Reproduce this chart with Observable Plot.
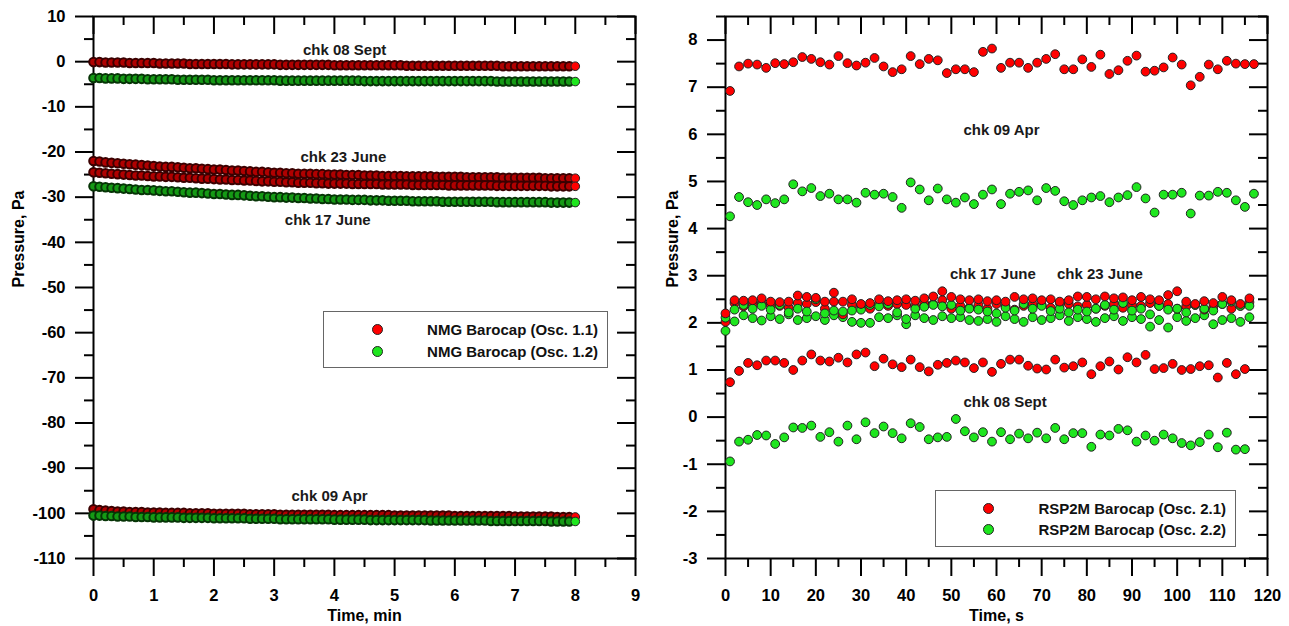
<!DOCTYPE html>
<html><head><meta charset="utf-8">
<script src="https://cdn.jsdelivr.net/npm/d3@7"></script>
<script src="https://cdn.jsdelivr.net/npm/@observablehq/plot@0.6"></script>
<style>
body{margin:0;background:#fff;font-family:"Liberation Sans",Arial,sans-serif;}
#wrap{position:relative;width:1289px;height:626px;overflow:hidden;background:#fff;}
.panel{position:absolute;top:0;}
.legend{position:absolute;border:1px solid #666;background:#fff;box-sizing:border-box;font:bold 15px "Liberation Sans",Arial,sans-serif;color:#111;}
.legend .sym{position:absolute;width:9px;height:9px;border-radius:50%;border:1px solid #222;}
.legend .lab{position:absolute;white-space:nowrap;line-height:18px;}
</style>
</head><body>
<div id="wrap"></div>
<script>
// ---------- LEFT PANEL DATA (Time, min) ----------
const leftTime = [
0,0.1,0.2,0.3,0.4,0.5,0.6,0.7,0.8,0.9,
1,1.1,1.2,1.3,1.4,1.5,1.6,1.7,1.8,1.9,
2,2.1,2.2,2.3,2.4,2.5,2.6,2.7,2.8,2.9,
3,3.1,3.2,3.3,3.4,3.5,3.6,3.7,3.8,3.9,
4,4.1,4.2,4.3,4.4,4.5,4.6,4.7,4.8,4.9,
5,5.1,5.2,5.3,5.4,5.5,5.6,5.7,5.8,5.9,
6,6.1,6.2,6.3,6.4,6.5,6.6,6.7,6.8,6.9,
7,7.1,7.2,7.3,7.4,7.5,7.6,7.7,7.8,7.9,
8];
// chk 08 Sept, Osc 1.1 (red)
const sept11 = [
-0.1,-0.1,-0.2,-0.2,-0.2,-0.2,-0.3,-0.3,-0.3,-0.3,
-0.3,-0.4,-0.4,-0.4,-0.4,-0.4,-0.5,-0.5,-0.5,-0.5,
-0.5,-0.5,-0.5,-0.6,-0.6,-0.6,-0.6,-0.6,-0.6,-0.6,
-0.6,-0.7,-0.7,-0.7,-0.7,-0.7,-0.7,-0.7,-0.7,-0.7,
-0.8,-0.8,-0.8,-0.8,-0.8,-0.8,-0.8,-0.8,-0.8,-0.8,
-0.8,-0.8,-0.9,-0.9,-0.9,-0.9,-0.9,-0.9,-0.9,-0.9,
-0.9,-0.9,-0.9,-0.9,-0.9,-0.9,-0.9,-0.9,-1.0,-1.0,
-1.0,-1.0,-1.0,-1.0,-1.0,-1.0,-1.0,-1.0,-1.0,-1.0,
-1.0];
// chk 08 Sept, Osc 1.2 (green)
const sept12 = [
-3.6,-3.6,-3.7,-3.7,-3.7,-3.8,-3.8,-3.8,-3.8,-3.9,
-3.9,-3.9,-3.9,-3.9,-4.0,-4.0,-4.0,-4.0,-4.0,-4.0,
-4.1,-4.1,-4.1,-4.1,-4.1,-4.1,-4.1,-4.1,-4.1,-4.1,
-4.1,-4.2,-4.2,-4.2,-4.2,-4.2,-4.2,-4.2,-4.2,-4.2,
-4.2,-4.2,-4.2,-4.2,-4.2,-4.3,-4.3,-4.3,-4.3,-4.3,
-4.3,-4.3,-4.3,-4.3,-4.3,-4.3,-4.3,-4.3,-4.3,-4.3,
-4.3,-4.3,-4.3,-4.3,-4.3,-4.3,-4.3,-4.4,-4.4,-4.4,
-4.4,-4.4,-4.4,-4.4,-4.4,-4.4,-4.4,-4.4,-4.4,-4.4,
-4.4];
// chk 23 June, Osc 1.1 (red, upper)
const june23Red = [
-22.0,-22.1,-22.3,-22.4,-22.5,-22.6,-22.7,-22.8,-22.9,-23.0,
-23.1,-23.2,-23.3,-23.3,-23.4,-23.5,-23.6,-23.6,-23.7,-23.8,
-23.9,-23.9,-24.0,-24.1,-24.1,-24.2,-24.3,-24.4,-24.4,-24.5,
-24.6,-24.6,-24.7,-24.7,-24.8,-24.8,-24.8,-24.9,-24.9,-25.0,
-25.0,-25.0,-25.1,-25.1,-25.1,-25.2,-25.2,-25.2,-25.3,-25.3,
-25.3,-25.3,-25.4,-25.4,-25.4,-25.4,-25.4,-25.5,-25.5,-25.5,
-25.5,-25.5,-25.6,-25.6,-25.6,-25.6,-25.6,-25.6,-25.7,-25.7,
-25.7,-25.7,-25.7,-25.7,-25.7,-25.8,-25.8,-25.8,-25.8,-25.8,
-25.8];
// chk 17 June, Osc 1.1 (red, lower)
const june17Red = [
-24.5,-24.6,-24.7,-24.8,-24.9,-25.0,-25.1,-25.2,-25.2,-25.3,
-25.4,-25.4,-25.5,-25.5,-25.6,-25.7,-25.7,-25.8,-25.9,-25.9,
-26.0,-26.1,-26.1,-26.2,-26.2,-26.3,-26.3,-26.4,-26.5,-26.5,
-26.6,-26.6,-26.7,-26.7,-26.8,-26.8,-26.8,-26.9,-26.9,-27.0,
-27.0,-27.0,-27.0,-27.1,-27.1,-27.1,-27.1,-27.1,-27.2,-27.2,
-27.2,-27.2,-27.2,-27.3,-27.3,-27.3,-27.3,-27.3,-27.3,-27.4,
-27.4,-27.4,-27.4,-27.4,-27.4,-27.4,-27.4,-27.5,-27.5,-27.5,
-27.5,-27.5,-27.5,-27.5,-27.5,-27.5,-27.6,-27.6,-27.6,-27.6,
-27.6];
// chk 17 June, Osc 1.2 (green)
const june17Green = [
-27.6,-27.7,-27.8,-27.9,-28.0,-28.1,-28.2,-28.3,-28.4,-28.4,
-28.5,-28.6,-28.7,-28.7,-28.8,-28.9,-29.0,-29.0,-29.1,-29.2,
-29.3,-29.3,-29.4,-29.5,-29.5,-29.6,-29.7,-29.8,-29.8,-29.9,
-30.0,-30.0,-30.1,-30.1,-30.2,-30.2,-30.3,-30.3,-30.4,-30.4,
-30.5,-30.5,-30.5,-30.6,-30.6,-30.6,-30.7,-30.7,-30.7,-30.8,
-30.8,-30.8,-30.8,-30.9,-30.9,-30.9,-30.9,-30.9,-31.0,-31.0,
-31.0,-31.0,-31.0,-31.0,-31.0,-31.0,-31.0,-31.1,-31.1,-31.1,
-31.1,-31.1,-31.1,-31.1,-31.1,-31.1,-31.2,-31.2,-31.2,-31.2,
-31.2];
// chk 09 Apr, Osc 1.1 (red)
const apr11 = [
-99.1,-99.3,-99.4,-99.5,-99.6,-99.6,-99.7,-99.7,-99.7,-99.8,
-99.8,-99.8,-99.9,-99.9,-99.9,-99.9,-100.0,-100.0,-100.0,-100.0,
-100.1,-100.1,-100.1,-100.1,-100.1,-100.1,-100.2,-100.2,-100.2,-100.2,
-100.2,-100.3,-100.3,-100.3,-100.3,-100.3,-100.3,-100.3,-100.3,-100.3,
-100.4,-100.4,-100.4,-100.4,-100.4,-100.4,-100.4,-100.4,-100.4,-100.4,
-100.5,-100.5,-100.5,-100.5,-100.5,-100.5,-100.5,-100.5,-100.5,-100.5,
-100.6,-100.6,-100.6,-100.6,-100.6,-100.6,-100.6,-100.6,-100.6,-100.6,
-100.7,-100.7,-100.7,-100.7,-100.7,-100.7,-100.7,-100.8,-100.8,-100.8,
-100.8];
// chk 09 Apr, Osc 1.2 (green)
const apr12 = [
-100.5,-100.5,-100.6,-100.6,-100.7,-100.7,-100.7,-100.8,-100.8,-100.8,
-100.9,-100.9,-100.9,-100.9,-100.9,-101.0,-101.0,-101.0,-101.0,-101.0,
-101.1,-101.1,-101.1,-101.1,-101.1,-101.1,-101.2,-101.2,-101.2,-101.2,
-101.2,-101.3,-101.3,-101.3,-101.3,-101.3,-101.3,-101.3,-101.3,-101.3,
-101.4,-101.4,-101.4,-101.4,-101.4,-101.4,-101.5,-101.5,-101.5,-101.5,
-101.5,-101.5,-101.5,-101.5,-101.5,-101.5,-101.6,-101.6,-101.6,-101.6,
-101.6,-101.6,-101.6,-101.6,-101.6,-101.6,-101.7,-101.7,-101.7,-101.7,
-101.7,-101.7,-101.7,-101.7,-101.7,-101.7,-101.8,-101.8,-101.8,-101.8,
-101.8];

// ---------- RIGHT PANEL DATA (Time, s) ----------
const rightTimeOdd = [1,3,5,7,9,11,13,15,17,19,21,23,25,27,29,31,33,35,37,39,41,43,45,47,49,51,53,55,57,59,
61,63,65,67,69,71,73,75,77,79,81,83,85,87,89,91,93,95,97,99,101,103,105,107,109,111,113,115,117];
const rightTimeEven = [0,2,4,6,8,10,12,14,16,18,20,22,24,26,28,30,32,34,36,38,40,42,44,46,48,50,52,54,56,58,
60,62,64,66,68,70,72,74,76,78,80,82,84,86,88,90,92,94,96,98,100,102,104,106,108,110,112,114,116];
// chk 09 Apr
const apr21 = [6.92,7.44,7.50,7.48,7.41,7.51,7.49,7.53,7.64,7.60,7.53,7.48,7.66,7.51,7.46,7.52,7.62,7.44,7.32,7.38,
7.66,7.49,7.60,7.57,7.30,7.38,7.38,7.32,7.75,7.82,7.41,7.52,7.52,7.41,7.52,7.60,7.70,7.38,7.38,7.59,
7.43,7.69,7.28,7.36,7.56,7.67,7.33,7.35,7.42,7.63,7.48,7.04,7.22,7.48,7.38,7.56,7.50,7.49,7.49];
const apr22 = [4.26,4.67,4.56,4.50,4.62,4.54,4.62,4.94,4.79,4.86,4.69,4.74,4.62,4.62,4.55,4.76,4.72,4.74,4.67,4.44,
4.98,4.83,4.60,4.85,4.62,4.55,4.66,4.52,4.72,4.83,4.52,4.74,4.78,4.81,4.60,4.86,4.80,4.58,4.50,4.60,
4.66,4.69,4.56,4.66,4.71,4.88,4.64,4.34,4.72,4.72,4.76,4.32,4.70,4.70,4.78,4.76,4.60,4.46,4.74];
// chk 08 Sept (t = 1 … 115 s)
const sept21 = [0.74,0.98,1.15,1.10,1.20,1.20,1.15,1.00,1.20,1.33,1.20,1.18,1.26,1.16,1.33,1.37,1.08,1.24,1.12,1.06,
1.22,1.06,0.97,1.11,1.15,1.20,1.16,1.04,1.16,0.96,1.13,1.22,1.22,1.09,1.03,1.01,1.22,1.05,1.08,1.16,
0.91,1.08,1.18,1.01,1.27,1.16,1.32,1.02,1.04,1.13,1.00,1.02,1.08,1.10,0.84,1.15,0.91,1.02];
const sept22 = [-0.94,-0.52,-0.48,-0.38,-0.39,-0.57,-0.43,-0.22,-0.23,-0.18,-0.42,-0.32,-0.52,-0.18,-0.47,-0.11,-0.34,-0.20,-0.34,-0.45,
-0.13,-0.21,-0.47,-0.43,-0.42,-0.04,-0.30,-0.43,-0.32,-0.52,-0.32,-0.47,-0.35,-0.45,-0.33,-0.45,-0.23,-0.47,-0.34,-0.34,
-0.63,-0.37,-0.39,-0.25,-0.28,-0.52,-0.39,-0.50,-0.37,-0.45,-0.55,-0.60,-0.53,-0.37,-0.64,-0.33,-0.69,-0.68];
// chk 23 June / chk 17 June (t = 0 … 116 s)
const june23Red21 = [2.20,2.48,2.47,2.48,2.52,2.45,2.44,2.45,2.58,2.55,2.53,2.45,2.64,2.45,2.50,2.40,2.42,2.50,2.46,2.48,
2.50,2.47,2.52,2.56,2.67,2.55,2.50,2.48,2.50,2.46,2.48,2.45,2.55,2.50,2.52,2.48,2.50,2.45,2.48,2.56,
2.55,2.50,2.56,2.52,2.54,2.48,2.55,2.50,2.48,2.59,2.67,2.45,2.40,2.46,2.42,2.55,2.48,2.40,2.52];
const june17Red21 = [2.02,2.42,2.35,2.40,2.42,2.38,2.36,2.32,2.42,2.40,2.44,2.30,2.45,2.18,2.38,2.35,2.30,2.40,2.36,2.40,
2.38,2.35,2.42,2.40,2.48,2.30,2.36,2.32,2.38,2.30,2.40,2.35,2.28,2.36,2.40,2.38,2.32,2.42,2.40,2.35,
2.38,2.30,2.36,2.40,2.32,2.38,2.36,2.42,2.36,2.40,2.30,2.35,2.38,2.28,2.33,2.40,2.30,2.36,2.44];
const june23Green22 = [2.11,2.28,2.38,2.30,2.36,2.28,2.38,2.22,2.30,2.24,2.50,2.20,2.26,2.24,2.26,2.28,2.38,2.35,2.40,2.22,
2.08,2.30,2.34,2.38,2.35,2.38,2.26,2.30,2.28,2.24,2.20,2.32,2.26,2.40,2.30,2.36,2.25,2.30,2.22,2.28,
2.24,2.30,2.38,2.28,2.42,2.26,2.30,2.18,2.36,2.28,2.30,2.22,2.38,2.30,2.26,2.40,2.45,2.36,2.36];
const june17Green22 = [1.83,2.03,2.16,2.10,2.05,2.14,2.08,2.18,2.06,2.10,2.14,2.06,2.16,2.12,2.02,2.00,2.00,2.12,2.10,2.16,
1.97,2.16,2.10,2.06,2.14,2.10,2.12,2.06,2.04,2.08,2.02,2.14,2.08,2.02,2.12,2.06,2.10,2.16,2.04,2.12,
2.08,2.02,2.10,2.14,2.04,2.12,2.08,1.92,2.06,1.90,2.12,2.04,2.10,2.16,1.97,2.06,2.10,2.02,2.12];

// ---------- TICKS / LABELS ----------
const leftXMajor = [0,1,2,3,4,5,6,7,8,9];
const leftXMinor = [0.5,1.5,2.5,3.5,4.5,5.5,6.5,7.5,8.5];
const leftYMajor = [10,0,-10,-20,-30,-40,-50,-60,-70,-80,-90,-100,-110];
const leftYMinor = [5,-5,-15,-25,-35,-45,-55,-65,-75,-85,-95,-105];
const rightXMajor = [0,10,20,30,40,50,60,70,80,90,100,110,120];
const rightXMinor = [5,15,25,35,45,55,65,75,85,95,105,115];
const rightYMajor = [8,7,6,5,4,3,2,1,0,-1,-2,-3];
const rightYMinor = [8.5,7.5,6.5,5.5,4.5,3.5,2.5,1.5,0.5,-0.5,-1.5,-2.5];

const leftNotes = [
  {label: "chk 08 Sept", x: 4.17, y: 2.5},
  {label: "chk 23 June", x: 4.15, y: -21.2},
  {label: "chk 17 June", x: 3.89, y: -35.2},
  {label: "chk 09 Apr", x: 3.92, y: -96.3}
];
const rightNotes = [
  {label: "chk 09 Apr", x: 61.1, y: 6.09},
  {label: "chk 17 June", x: 59.2, y: 3.03},
  {label: "chk 23 June", x: 82.9, y: 3.03},
  {label: "chk 08 Sept", x: 61.9, y: 0.31}
];

const RED = "#ff0000", GREEN = "#1ee61e", EDGE = "#222";
// dense left-panel runs: overlapping outlines give the darker band of the original
const RED_DENSE = "#b00000", RED_EDGE_DENSE = "#3a0000";
const GREEN_DENSE = "#159a15", GREEN_EDGE_DENSE = "#063406";
const zip = (ts, vs) => ts.map((t, i) => ({t, p: vs[i], last: i === ts.length - 1})).filter(d => d.p != null);

function panel({width, marginLeft, marginRight, xDomain, yDomain, xMajor, xMinor, yMajor, yMinor, series, notes, xLabel, yLabelDx, r}) {
  const innerW = width - marginLeft - marginRight;
  const innerH = 626 - 16 - 68;
  const fmt = d => String(d);
  return Plot.plot({
    width, height: 626, marginLeft, marginRight, marginTop: 16, marginBottom: 68,
    x: {domain: xDomain}, y: {domain: yDomain},
    style: {fontFamily: "'Liberation Sans', Arial, sans-serif", fontSize: "16px", fontWeight: "bold", color: "#000", background: "white"},
    marks: [
      Plot.axisY(yMajor, {tickSize: 18, tickPadding: 10, tickFormat: fmt, label: null, strokeWidth: 2, fontSize: 16.5}),
      Plot.axisY(yMinor, {tickSize: 9, tickFormat: () => "", label: null, strokeWidth: 2}),
      Plot.axisX(xMajor, {tickSize: 18, tickPadding: 13, tickFormat: fmt, label: null, strokeWidth: 2, fontSize: 16.5}),
      Plot.axisX(xMinor, {tickSize: 9, tickFormat: () => "", label: null, strokeWidth: 2}),
      Plot.tickX(xMajor, {x: d => d, insetBottom: innerH - 18, strokeWidth: 2, stroke: "#000"}),
      Plot.tickX(xMinor, {x: d => d, insetBottom: innerH - 9, strokeWidth: 2, stroke: "#000"}),
      Plot.tickY(yMajor, {y: d => d, insetLeft: innerW - 18, strokeWidth: 2, stroke: "#000"}),
      Plot.tickY(yMinor, {y: d => d, insetLeft: innerW - 9, strokeWidth: 2, stroke: "#000"}),
      Plot.frame({stroke: "#000", strokeWidth: 2}),
      ...series.flatMap(s => s.dense ? [
        Plot.dot(s.data.filter(d => !d.last), {x: "t", y: "p", r, fill: s.dense, stroke: s.edge, strokeWidth: 2}),
        Plot.dot(s.data.filter(d => d.last), {x: "t", y: "p", r, fill: s.color, stroke: EDGE, strokeWidth: 1})
      ] : [
        Plot.dot(s.data, {x: "t", y: "p", r, fill: s.color, stroke: EDGE, strokeWidth: 1})
      ]),
      Plot.text(notes, {x: "x", y: "y", text: "label", fontSize: 15, fontWeight: "bold", fill: "#1a1a1a"}),
      Plot.text([xLabel], {frameAnchor: "bottom", dy: 57, lineAnchor: "middle", fontSize: 16, fontWeight: "bold", fill: "#000"}),
      Plot.text(["Pressure, Pa"], {frameAnchor: "left", dx: yLabelDx, rotate: -90, lineAnchor: "middle", fontSize: 16, fontWeight: "bold", fill: "#000"})
    ]
  });
}

const wrap = document.getElementById("wrap");

const dR = {color: RED, dense: RED_DENSE, edge: RED_EDGE_DENSE};
const dG = {color: GREEN, dense: GREEN_DENSE, edge: GREEN_EDGE_DENSE};
const left = panel({
  width: 645, marginLeft: 93, marginRight: 10, xDomain: [0, 9], yDomain: [-110, 10],
  xMajor: leftXMajor, xMinor: leftXMinor, yMajor: leftYMajor, yMinor: leftYMinor,
  series: [
    {...dR, data: zip(leftTime, sept11)},
    {...dG, data: zip(leftTime, sept12)},
    {...dR, data: zip(leftTime, june23Red)},
    {...dR, data: zip(leftTime, june17Red)},
    {...dG, data: zip(leftTime, june17Green)},
    {...dR, data: zip(leftTime, apr11)},
    {...dG, data: zip(leftTime, apr12)}
  ],
  notes: leftNotes, xLabel: "Time, min", yLabelDx: -75, r: 4.3
});
left.classList.add("panel"); left.style.left = "0px";
wrap.appendChild(left);

const right = panel({
  width: 644, marginLeft: 80, marginRight: 22, xDomain: [0, 120], yDomain: [-3, 8.5],
  xMajor: rightXMajor, xMinor: rightXMinor, yMajor: rightYMajor, yMinor: rightYMinor,
  series: [
    {data: zip(rightTimeOdd, apr21), color: RED},
    {data: zip(rightTimeOdd, apr22), color: GREEN},
    {data: zip(rightTimeEven, june17Green22), color: GREEN},
    {data: zip(rightTimeEven, june17Red21), color: RED},
    {data: zip(rightTimeEven, june23Green22), color: GREEN},
    {data: zip(rightTimeEven, june23Red21), color: RED},
    {data: zip(rightTimeOdd, sept21), color: RED},
    {data: zip(rightTimeOdd, sept22), color: GREEN}
  ],
  notes: rightNotes, xLabel: "Time, s", yLabelDx: -53, r: 4.4
});
right.classList.add("panel"); right.style.left = "645px";
wrap.appendChild(right);

// ---------- LEGENDS ----------
function legend(box, items) {
  const d = document.createElement("div");
  d.className = "legend";
  Object.assign(d.style, {left: box.left + "px", top: box.top + "px", width: box.width + "px", height: box.height + "px"});
  items.forEach((it, i) => {
    const cy = box.rows[i];
    const s = document.createElement("div");
    s.className = "sym";
    Object.assign(s.style, {left: (box.symX - 5.5) + "px", top: (cy - 5.5) + "px", background: it.color});
    const t = document.createElement("div");
    t.className = "lab";
    t.textContent = it.label;
    Object.assign(t.style, {right: box.textRight + "px", top: (cy - 9) + "px"});
    d.appendChild(s); d.appendChild(t);
  });
  wrap.appendChild(d);
}
legend({left: 323, top: 311, width: 285, height: 57, symX: 53, rows: [17.5, 39.5], textRight: 9},
  [{label: "NMG Barocap (Osc. 1.1)", color: RED}, {label: "NMG Barocap (Osc. 1.2)", color: GREEN}]);
legend({left: 935, top: 490, width: 301, height: 57, symX: 52, rows: [17.5, 38.5], textRight: 9},
  [{label: "RSP2M Barocap (Osc. 2.1)", color: RED}, {label: "RSP2M Barocap (Osc. 2.2)", color: GREEN}]);
</script>
</body></html>
